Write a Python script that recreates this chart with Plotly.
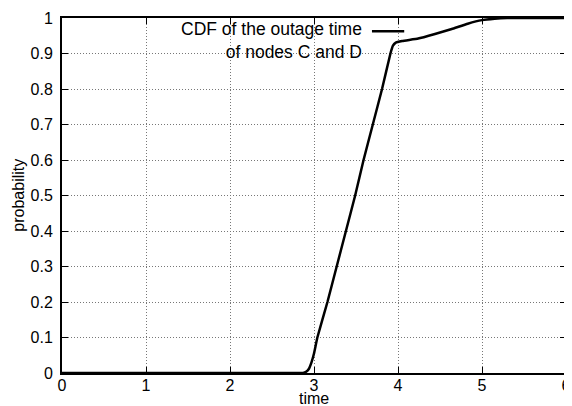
import plotly.graph_objects as go

# CDF of the outage time of nodes C and D
time_vals = [0.0, 2.85, 2.88, 2.91, 2.94, 2.97, 3.0, 3.04, 3.16, 3.27, 3.38, 3.49, 3.59,
             3.70, 3.81, 3.91, 3.94, 3.97, 4.05, 4.24, 4.44, 4.64, 4.83, 5.0,
             5.15, 5.3, 5.45, 6.0]
prob_vals = [0.0, 0.0, 0.001, 0.004, 0.012, 0.03, 0.055, 0.1, 0.2, 0.3, 0.4, 0.5, 0.6,
             0.7, 0.8, 0.9, 0.922, 0.930, 0.935, 0.942, 0.955, 0.969, 0.984, 0.994,
             0.998, 1.0, 1.0, 1.0]

x_ticks = [0, 1, 2, 3, 4, 5, 6]
y_ticks = [0, 0.1, 0.2, 0.3, 0.4, 0.5, 0.6, 0.7, 0.8, 0.9, 1]
y_tick_text = ["0", "0.1", "0.2", "0.3", "0.4", "0.5", "0.6", "0.7", "0.8", "0.9", "1"]
legend_text = "CDF of the outage time<br>of nodes C and D"
x_title = "time"
y_title = "probability"

FONT = "Liberation Sans, Arial, Helvetica, sans-serif"

fig = go.Figure()
fig.add_trace(go.Scatter(x=time_vals, y=prob_vals, mode="lines",
                         line=dict(color="black", width=2.5, shape="spline", smoothing=0.3),
                         showlegend=False))

axis_common = dict(showline=True, linecolor="black", linewidth=2, mirror="ticks",
                   ticks="inside", ticklen=6, tickcolor="black", tickwidth=1,
                   showgrid=True, gridcolor="#777777", griddash="1px,2px", gridwidth=1,
                   zeroline=False, automargin=False,
                   tickfont=dict(family=FONT, size=16, color="black"))

fig.update_xaxes(range=[0, 6], tickvals=x_ticks, ticktext=[str(v) for v in x_ticks],
                 ticklabelstandoff=-3, **axis_common)
fig.update_yaxes(range=[0, 1], tickvals=y_ticks, ticktext=y_tick_text,
                 ticklabelstandoff=4, **axis_common)

fig.add_annotation(xref="paper", yref="paper", x=0.5, y=-0.072, xanchor="center", yanchor="middle",
                   text=x_title, showarrow=False, font=dict(family=FONT, size=16, color="black"))
fig.add_annotation(xref="paper", yref="paper", x=-0.087, y=0.5, xanchor="center", yanchor="middle",
                   text=y_title, showarrow=False, textangle=-90,
                   font=dict(family=FONT, size=16, color="black"))

fig.add_annotation(xref="paper", yref="paper", x=0.600, y=0.937, xanchor="right", yanchor="middle",
                   text=legend_text, showarrow=False, align="right",
                   font=dict(family=FONT, size=17.5, color="black"))
fig.add_shape(type="line", xref="paper", yref="paper", x0=0.615, x1=0.679, y0=0.963, y1=0.963,
              line=dict(color="black", width=2.5))

# the page body has an 8px margin, so the figure is sized/offset to compensate
fig.update_layout(width=564, height=398, margin=dict(l=54, r=6, t=10, b=33),
                  plot_bgcolor="white", paper_bgcolor="white",
                  font=dict(family=FONT, size=16, color="black"))

fig.write_html("out.html")
